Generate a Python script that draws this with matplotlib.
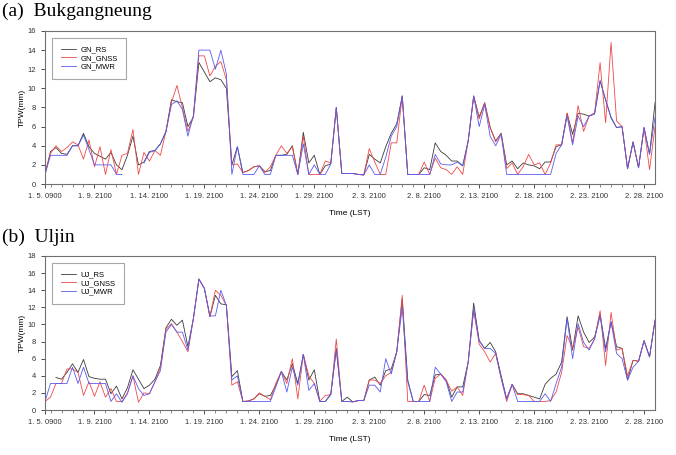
import numpy as np
import matplotlib
matplotlib.use('Agg')
import matplotlib.pyplot as plt

nan = np.nan

# twice-daily observations, 1.5 09LST ... 2.29 21LST
tick_pos = [0, 9, 19, 29, 39, 49, 59, 69, 79, 89, 99, 109]
tick_labels = ['1. 5. 0900', '1. 9. 2100', '1. 14. 2100', '1. 19. 2100', '1. 24. 2100', '1. 29. 2100',
               '2. 3. 2100', '2. 8. 2100', '2. 13. 2100', '2. 18. 2100', '2. 23. 2100', '2. 28. 2100']

# (a) Bukgangneung
gn_rs = [1.0, 3.4, 3.8, 3.2, 3.1, 4.0, 4.0, 5.3, 3.9, 3.2, 2.9, 2.6, 3.3, 2.0, 1.5, 3.0,
         5.0, 2.0, 2.3, 3.4, 3.5, 4.2, 5.5, 8.8, 8.6, 8.5, 6.0, 7.0, 12.7, 11.7, 10.7, 11.1,
         10.9, 10.0, 2.0, 3.9, 1.2, 1.4, 1.8, 1.9, 1.3, 1.4, 3.0, 3.0, 3.1, 4.0, 1.0, 5.4,
         2.2, 3.0, 1.0, 1.9, 2.1, 8.0, 1.1, 1.1, 1.1, 1.0, 0.95, 3.1, 2.6, 2.2, 3.9, 5.3,
         6.3, 9.2, 1.0, 1.0, 1.0, 1.7, 1.5, 4.3, 3.4, 3.0, 2.4, 2.4, 1.9, 4.5, 9.2, 7.0,
         8.5, 5.9, 4.5, 5.3, 2.0, 2.4, 1.6, 2.2, 2.0, 1.9, 1.6, 2.3, 2.3, 3.9, 4.1, 7.4,
         5.2, 7.4, 7.3, 7.1, 7.4, 10.8, 8.8, 6.9, 5.9, 6.0, 1.6, 4.4, 1.7, 5.9, 3.1, 8.5]
gn_gnss = [1.2, 3.2, 4.0, 3.4, 3.8, 4.4, 4.1, 2.6, 4.6, 1.8, 3.9, 1.0, 3.6, 1.0, 3.0, 3.2,
           5.7, 1.0, 3.3, 2.4, 3.5, 3.0, 5.5, 8.5, 10.3, 8.0, 5.5, 7.0, 13.4, 13.4, 11.3, 12.3,
           12.8, 10.9, 2.0, 2.1, 1.2, 1.4, 1.8, 1.9, 1.2, 1.8, 3.0, 4.0, 3.2, 3.9, 1.0, 5.0,
           1.0, 1.0, 1.0, 2.4, 2.2, 8.0, 1.1, 1.1, 1.1, 1.0, 0.95, 3.7, 2.3, 1.0, 1.0, 4.3,
           4.3, 9.2, 1.0, 1.0, 1.0, 2.3, 1.0, 2.7, 1.7, 1.5, 1.0, 1.8, 1.0, 4.5, 9.2, 6.8,
           8.5, 5.9, 4.4, 5.3, 1.6, 2.2, 1.0, 1.8, 3.1, 2.0, 2.2, 1.0, 2.2, 4.1, 4.1, 7.4,
           4.3, 8.2, 5.5, 7.1, 7.4, 12.7, 6.4, 14.8, 6.6, 6.0, 1.6, 4.4, 1.7, 5.9, 1.5, 6.0]
gn_mwr = [1.0, 3.0, 3.0, 3.0, 3.0, 4.0, 4.0, 5.1, 3.6, 2.0, 2.0, 2.0, 2.0, 1.0, 1.0, nan,
          nan, nan, 2.2, 3.3, 3.5, 4.2, 5.4, 8.3, 8.7, 7.8, 5.0, 7.2, 14.0, 14.0, 14.0, 12.0,
          14.0, 11.5, 1.0, 3.9, 1.0, 1.0, 1.0, 1.9, 1.0, 1.0, 3.0, 3.0, 3.0, 3.0, 1.0, 4.2,
          1.0, 2.0, 1.0, 1.0, 2.1, 8.0, 1.1, 1.1, 1.1, 1.0, 0.95, 2.0, 1.0, 1.0, 2.8, 5.0,
          6.0, 9.2, 1.0, 1.0, 1.0, 1.0, 1.0, 3.1, 2.1, 2.0, 2.0, 2.3, 1.9, 4.5, 9.2, 6.0,
          8.3, 5.0, 4.0, 5.2, 1.0, 1.0, 1.0, 1.0, 1.0, 1.0, 1.0, 1.0, 1.0, 3.2, 4.1, 7.1,
          4.1, 7.1, 6.0, 7.1, 7.3, 10.8, 8.8, 7.0, 5.9, 6.0, 1.6, 4.4, 1.7, 5.9, 3.1, 7.0]

# (b) Uljin
uj_rs = [nan, nan, 3.8, 3.6, 4.4, 5.4, 4.4, 5.9, 3.9, 3.7, 3.6, 3.6, 1.9, 2.8, 1.3, 2.6,
         4.7, 3.6, 2.5, 2.9, 3.6, 5.2, 9.6, 10.6, 9.9, 10.5, 7.4, 10.7, 15.3, 14.2, 10.9, 13.4,
         12.4, 12.3, 3.9, 4.6, 1.0, 1.05, 1.3, 1.9, 1.6, 1.7, 2.9, 4.5, 3.5, 5.4, 3.1, 6.5,
         3.5, 4.7, 1.0, 1.0, 1.8, 7.2, 1.0, 1.5, 0.95, 1.1, 1.1, 3.5, 3.85, 2.9, 4.6, 4.8,
         6.8, 13.0, 3.5, 1.0, 1.0, 1.8, 1.7, 4.1, 4.2, 3.5, 1.5, 2.7, 2.7, 5.6, 12.5, 8.1,
         7.2, 7.9, 6.8, 4.0, 1.3, 3.0, 1.9, 1.9, 1.7, 1.5, 1.3, 3.0, 3.7, 4.2, 5.6, 10.9,
         7.0, 11.0, 9.1, 7.9, 8.5, 11.2, 7.2, 10.3, 7.4, 7.2, 3.5, 5.8, 5.7, 8.1, 6.2, 10.5]
uj_gnss = [1.0, 1.5, 3.1, 3.1, 4.8, 4.8, 4.4, 1.7, 3.3, 1.6, 3.3, 1.5, 2.5, 1.0, 1.0, 2.0,
           4.0, 0.9, 2.0, 1.9, 3.3, 5.0, 9.4, 10.1, 9.1, 8.0, 6.8, 10.7, 15.3, 14.2, 10.9, 14.0,
           13.4, 12.2, 2.9, 3.3, 1.0, 1.05, 1.3, 2.0, 1.6, 1.2, 3.1, 4.5, 3.1, 6.0, 1.3, 6.5,
           4.0, 3.1, 1.0, 1.7, 1.8, 8.3, 1.0, 1.0, 0.95, 1.1, 1.1, 3.5, 3.5, 3.1, 4.0, 4.4,
           6.8, 13.4, 1.0, 1.0, 1.0, 2.9, 1.0, 3.7, 4.2, 3.5, 2.2, 2.7, 1.7, 5.6, 11.6, 7.7,
           6.8, 5.6, 6.6, 3.7, 1.0, 3.0, 1.8, 1.8, 1.7, 1.0, 1.0, 1.0, 1.1, 2.1, 4.4, 8.7,
           7.2, 9.7, 7.4, 7.2, 8.3, 11.6, 5.2, 11.4, 7.0, 7.2, 4.0, 5.8, 5.7, 8.1, 6.2, 10.5]
uj_mwr = [1.0, 3.1, 3.1, 3.1, 3.1, 5.0, 3.1, 5.0, 3.1, 3.1, 3.1, 3.1, 1.0, 1.9, 0.9, 1.9,
          4.0, 2.5, 1.7, 1.9, 3.3, 4.6, 9.1, 10.0, 9.1, 9.1, 7.0, 10.7, 15.3, 14.2, 11.0, 11.0,
          14.0, 12.2, 3.5, 4.0, 1.0, 1.0, 1.0, 1.0, 1.0, 1.0, 2.7, 4.5, 2.1, 5.0, 2.9, 6.5,
          2.3, 3.1, 1.0, 1.0, 1.9, 7.0, 1.0, 1.0, 0.95, 1.1, 1.1, 2.9, 2.9, 2.1, 6.0, 4.2,
          6.8, 12.0, 3.3, 1.0, 1.0, 1.0, 1.0, 5.0, 4.2, 3.3, 1.0, 2.1, 2.1, 5.6, 11.8, 8.1,
          7.2, 7.2, 6.6, 3.7, 1.3, 3.0, 1.0, 1.0, 1.0, 1.0, 1.0, 1.9, 1.0, 3.1, 5.0, 10.7,
          6.0, 10.1, 7.9, 7.0, 8.3, 11.0, 6.8, 10.3, 6.6, 6.0, 3.5, 5.0, 5.7, 8.1, 6.2, 10.5]

x = np.arange(len(gn_rs))

c_rs = '#3a3a3a'
c_gnss = '#f04848'
c_mwr = '#5a5af0'

plt.rcParams['font.family'] = ['Liberation Sans', 'DejaVu Sans']

fig = plt.figure(figsize=(6.76, 4.55), dpi=100)
ax1 = fig.add_axes([0.0666, 0.5956, 0.9024, 0.3363])
ax2 = fig.add_axes([0.0666, 0.0989, 0.9024, 0.3385])

panels = [
    (ax1, gn_rs, gn_gnss, gn_mwr, ['GN_RS', 'GN_GNSS', 'GN_MWR'], 16, '(a)  Bukgangneung', 0.993),
    (ax2, uj_rs, uj_gnss, uj_mwr, ['UJ_RS', 'UJ_GNSS', 'UJ_MWR'], 18, '(b)  Uljin', 0.497),
]

for ax, rs, gnss, mwr, names, ymax, title, ty in panels:
    ax.plot(x, rs, color=c_rs, lw=0.6, label=names[0])
    ax.plot(x, gnss, color=c_gnss, lw=0.6, label=names[1])
    ax.plot(x, mwr, color=c_mwr, lw=0.6, label=names[2])
    ax.set_xlim(0, 111)
    ax.set_ylim(0, ymax)
    ax.set_yticks(range(0, ymax + 1, 2))
    ax.set_xticks(tick_pos)
    ax.set_xticklabels(tick_labels)
    ax.set_xticks(range(1, 111, 2), minor=True)
    ax.tick_params(axis='both', labelsize=5.5, colors='#333333', length=3, width=0.6, direction='out')
    ax.tick_params(axis='x', which='minor', length=2, width=0.5, color='#555555')
    for s in ax.spines.values():
        s.set_color('#707070')
        s.set_linewidth(0.8)
    ax.set_ylabel('TPW(mm)', fontsize=6, labelpad=1)
    ax.set_xlabel('Time (LST)', fontsize=6, labelpad=7)
    leg = ax.legend(loc='upper left', bbox_to_anchor=(0.008, 0.97), fontsize=5.5, fancybox=False,
                    edgecolor='#909090', handlelength=2.0, borderpad=1.1, labelspacing=0.15,
                    handletextpad=0.6, borderaxespad=0.3)
    leg.get_frame().set_linewidth(0.8)
    fig.text(0.003, ty, title, fontsize=14, family='Liberation Serif', va='top')

fig.savefig('out.png', dpi=100)
